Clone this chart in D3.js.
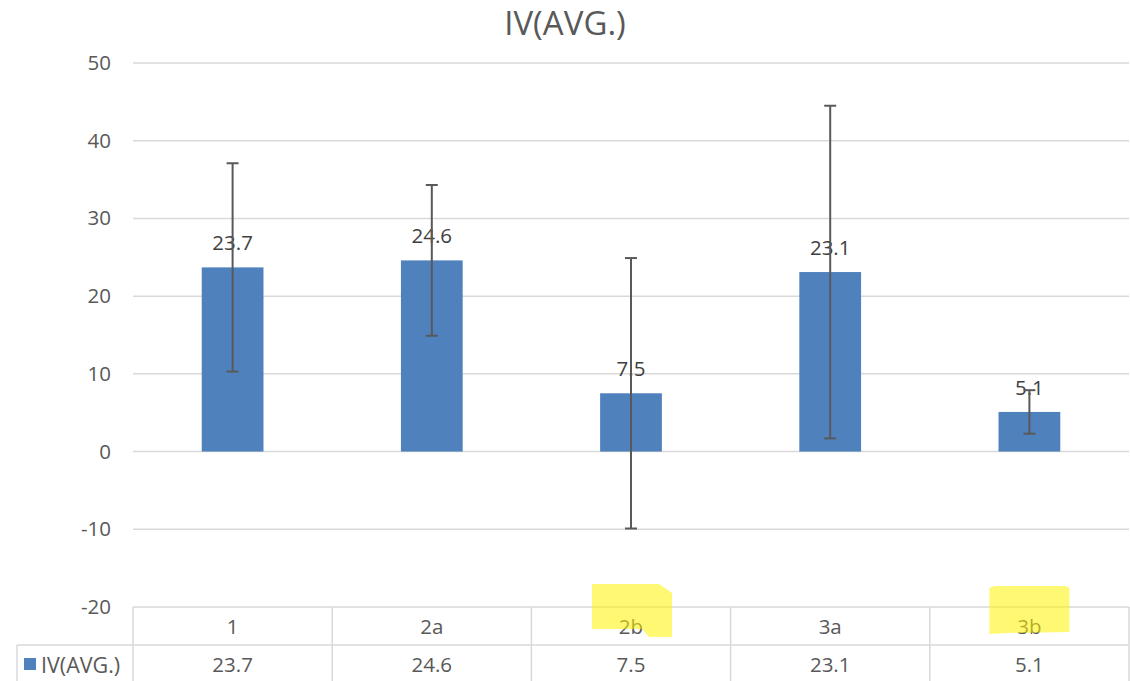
<!DOCTYPE html>
<html>
<head>
<meta charset="utf-8">
<script src="https://cdn.jsdelivr.net/npm/d3@7"></script>
<style>
  html, body { margin: 0; padding: 0; background: #fff; }
  svg { display: block; }
  text { font-family: "Open Sans", "Noto Sans", sans-serif; fill: #595959; }
</style>
</head>
<body>
<svg id="chart" width="1130" height="681"></svg>
<script>
const title = "IV(AVG.)";
const seriesName = "IV(AVG.)";
const categories = ["1", "2a", "2b", "3a", "3b"];
const values = [23.7, 24.6, 7.5, 23.1, 5.1];
const errors = [13.4, 9.7, 17.4, 21.4, 2.8];
const yTicks = [-20, -10, 0, 10, 20, 30, 40, 50];
const highlighted = ["2b", "3b"];

(function () {
const svg = d3.select("#chart");
const pLeft = 133, pRight = 1129, pTop = 63, pBottom = 607;
const rowH = 38;
const fs = "20.5px";

const x = d3.scaleBand().domain(categories).range([pLeft, pRight]).paddingInner(0).paddingOuter(0);
const y = d3.scaleLinear().domain([d3.min(yTicks), d3.max(yTicks)]).range([pBottom, pTop]);

// title
svg.append("text").attr("x", 565).attr("y", 22).attr("text-anchor", "middle")
  .attr("dominant-baseline", "central").style("font-size", "33px").text(title);

// gridlines
svg.append("g").selectAll("line").data(yTicks).join("line")
  .attr("x1", pLeft).attr("x2", pRight)
  .attr("y1", d => y(d)).attr("y2", d => y(d))
  .attr("stroke", "#d9d9d9").attr("stroke-width", 1.5);

// y labels
const yAxis = d3.axisLeft(y).tickValues(yTicks).tickSize(0).tickPadding(22).tickFormat(d => String(d));
const ya = svg.append("g").attr("transform", `translate(${pLeft},0)`).call(yAxis);
ya.select(".domain").remove();
ya.selectAll("text").style("font-size", fs).style("fill", "#595959")
  .style("font-family", '"Open Sans", sans-serif');

// bars
const bw = x.bandwidth() * 0.31;
svg.append("g").selectAll("rect").data(values).join("rect")
  .attr("x", (d, i) => x(categories[i]) + x.bandwidth() / 2 - bw / 2)
  .attr("width", bw)
  .attr("y", d => y(Math.max(0, d)))
  .attr("height", d => Math.abs(y(d) - y(0)))
  .attr("fill", "#4f81bd");

// data labels
svg.append("g").selectAll("text").data(values).join("text")
  .attr("x", (d, i) => x(categories[i]) + x.bandwidth() / 2)
  .attr("y", d => y(d) - 17)
  .attr("text-anchor", "middle").style("font-size", fs).style("fill", "#404040")
  .text(d => d.toFixed(1));

// error bars
const eb = svg.append("g").attr("stroke", "#595959").attr("stroke-width", 2);
values.forEach((v, i) => {
  const cx = x(categories[i]) + x.bandwidth() / 2;
  const hi = y(v + errors[i]), lo = y(v - errors[i]);
  eb.append("line").attr("x1", cx).attr("x2", cx).attr("y1", hi).attr("y2", lo);
  eb.append("line").attr("x1", cx - 6).attr("x2", cx + 6).attr("y1", hi).attr("y2", hi);
  eb.append("line").attr("x1", cx - 6).attr("x2", cx + 6).attr("y1", lo).attr("y2", lo);
});

// data table
const tbl = svg.append("g").attr("stroke", "#d9d9d9").attr("stroke-width", 1.5);
tbl.append("line").attr("x1", 17).attr("x2", pRight).attr("y1", pBottom + rowH).attr("y2", pBottom + rowH);
tbl.append("line").attr("x1", 17).attr("x2", pRight).attr("y1", pBottom + 2 * rowH).attr("y2", pBottom + 2 * rowH);
tbl.append("line").attr("x1", 17).attr("x2", 17).attr("y1", pBottom + rowH).attr("y2", pBottom + 2 * rowH);
const vEdges = categories.map(c => x(c)).concat([pRight]);
tbl.selectAll("line.v").data(vEdges).join("line").attr("class", "v")
  .attr("x1", d => d).attr("x2", d => d).attr("y1", pBottom).attr("y2", pBottom + 2 * rowH);

svg.append("g").selectAll("text").data(categories).join("text")
  .attr("x", d => x(d) + x.bandwidth() / 2).attr("y", pBottom + rowH / 2)
  .attr("text-anchor", "middle").attr("dominant-baseline", "central")
  .style("font-size", fs).text(d => d);
svg.append("g").selectAll("text").data(values).join("text")
  .attr("x", (d, i) => x(categories[i]) + x.bandwidth() / 2).attr("y", pBottom + rowH * 1.5)
  .attr("text-anchor", "middle").attr("dominant-baseline", "central")
  .style("font-size", fs).text(d => d.toFixed(1));

// legend key in table
svg.append("rect").attr("x", 24).attr("y", pBottom + rowH * 1.5 - 6).attr("width", 12).attr("height", 12).attr("fill", "#4f81bd");
svg.append("text").attr("x", 41).attr("y", pBottom + rowH * 1.5).attr("dominant-baseline", "central")
  .style("font-size", "21.5px").text(seriesName);

// yellow highlighter marks over category labels
const hl = svg.append("g");
highlighted.forEach((c, k) => {
  const cx = x(c) + x.bandwidth() / 2;
  const pts = k === 0
    ? [[-39, -23], [28, -23], [41, -14], [41, 30], [18, 30], [11, 22], [-39, 22]]
    : [[-40, -19], [-34, -21], [36, -21], [40, -19], [40, 25], [-20, 26], [-40, 27]];
  hl.append("polygon")
    .attr("points", pts.map(p => [cx + p[0], pBottom + p[1]].join(",")).join(" "))
    .attr("fill", "#fff200").attr("fill-opacity", 0.55);
});
})();
</script>
</body>
</html>
